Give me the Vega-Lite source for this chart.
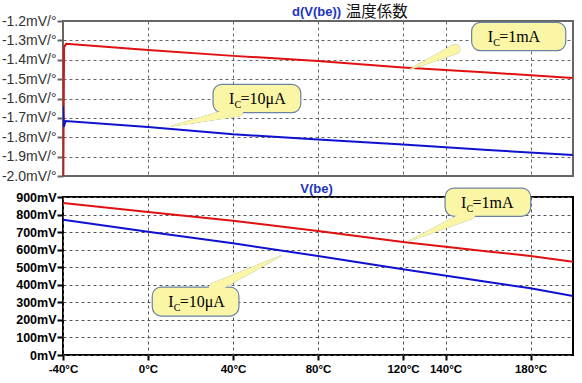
{
  "$schema": "https://vega.github.io/schema/vega-lite/v6.json",
  "background": "white",
  "padding": {"left": 0, "top": 3, "right": 0, "bottom": 0},
  "spacing": 21,
  "bounds": "flush",
  "config": {
    "font": "Liberation Sans",
    "axis": {"gridDash": [3, 3], "gridWidth": 1, "domain": false, "title": null, "labelFlush": false, "labelOverlap": false}
  },
  "datasets": {
    "dvbe": [
      {"ic": "1mA", "T": -40, "v": -2.3},
      {"ic": "1mA", "T": -39.5, "v": -1.335},
      {"ic": "1mA", "T": -38.5, "v": -1.318},
      {"ic": "1mA", "T": 0, "v": -1.350},
      {"ic": "1mA", "T": 40, "v": -1.380},
      {"ic": "1mA", "T": 80, "v": -1.406},
      {"ic": "1mA", "T": 120, "v": -1.440},
      {"ic": "1mA", "T": 160, "v": -1.466},
      {"ic": "1mA", "T": 200, "v": -1.494},
      {"ic": "10μA", "T": -40, "v": -1.64},
      {"ic": "10μA", "T": -39.6, "v": -1.745},
      {"ic": "10μA", "T": -38.8, "v": -1.716},
      {"ic": "10μA", "T": 0, "v": -1.747},
      {"ic": "10μA", "T": 40, "v": -1.785},
      {"ic": "10μA", "T": 80, "v": -1.811},
      {"ic": "10μA", "T": 120, "v": -1.838},
      {"ic": "10μA", "T": 160, "v": -1.866},
      {"ic": "10μA", "T": 200, "v": -1.892}
    ],
    "vbe": [
      {"ic": "1mA", "T": -40, "v": 866},
      {"ic": "1mA", "T": 0, "v": 815},
      {"ic": "1mA", "T": 40, "v": 765},
      {"ic": "1mA", "T": 80, "v": 706},
      {"ic": "1mA", "T": 120, "v": 644},
      {"ic": "1mA", "T": 160, "v": 590},
      {"ic": "1mA", "T": 180, "v": 564},
      {"ic": "1mA", "T": 200, "v": 531},
      {"ic": "10μA", "T": -40, "v": 771},
      {"ic": "10μA", "T": 0, "v": 702},
      {"ic": "10μA", "T": 40, "v": 636},
      {"ic": "10μA", "T": 80, "v": 564},
      {"ic": "10μA", "T": 120, "v": 488},
      {"ic": "10μA", "T": 160, "v": 416},
      {"ic": "10μA", "T": 180, "v": 380},
      {"ic": "10μA", "T": 200, "v": 336}
    ],
    "bubblesTop": [
      {"rest": "=1mA", "T": 152.3, "T2": 196.6, "v": -1.2067, "v2": -1.3533},
      {"rest": "=10μA", "T": 30.6, "T2": 71.9, "v": -1.5267, "v2": -1.6733}
    ],
    "pointersTop": [
      {"id": "a", "end": "base", "T": 144.5, "v": -1.346},
      {"id": "a", "end": "tip", "T": 123.6, "v": -1.4477},
      {"id": "b", "end": "base", "T": 42.4, "v": -1.666},
      {"id": "b", "end": "tip", "T": 11.3, "v": -1.742}
    ],
    "bubblesBottom": [
      {"rest": "=1mA", "T": 139.8, "T2": 180.1, "v": 951, "v2": 790},
      {"rest": "=10μA", "T": 2.0, "T2": 42.8, "v": 387, "v2": 222}
    ],
    "pointersBottom": [
      {"id": "a", "end": "base", "T": 151.5, "v": 800},
      {"id": "a", "end": "tip", "T": 122.8, "v": 649},
      {"id": "b", "end": "base", "T": 31.1, "v": 383},
      {"id": "b", "end": "tip", "T": 62.4, "v": 564}
    ],
    "titleTopMain": [
      {"label": "d(V(be))", "T": 79.3, "v": -1.1535}
    ],
    "titleTopNote": [
      {"label": "温度係数", "T": 93.0, "v": -1.1535}
    ],
    "titleBottom": [
      {"label": "V(be)", "T": 79.3, "v": 948}
    ]
  },
  "vconcat": [
    {
      "width": 510,
      "height": 155,
      "view": {"stroke": "#666666", "strokeWidth": 2},
      "encoding": {
        "x": {"field": "T", "type": "quantitative", "scale": {"domain": [-40, 200], "nice": false, "zero": false},
              "axis": {"values": [-40, 0, 40, 80, 120, 140, 180], "labels": false, "ticks": false, "grid": true, "gridColor": "#666666"}},
        "y": {"field": "v", "type": "quantitative", "scale": {"domain": [-2.0, -1.2], "nice": false, "zero": false},
              "axis": {"values": [-2.0, -1.9, -1.8, -1.7, -1.6, -1.5, -1.4, -1.3, -1.2], "labelExpr": "replace(format(datum.value, '.1f'), '\u2212', '-') + 'mV/°'",
                       "labelFontSize": 14, "labelColor": "#333333", "tickColor": "#666666", "tickWidth": 2, "tickSize": 6, "labelPadding": 1,
                       "grid": true, "gridColor": "#666666"}}
      },
      "layer": [
        {"data": {"name": "dvbe"}, "mark": {"type": "line", "clip": true, "strokeWidth": 2},
         "encoding": {"color": {"field": "ic", "type": "nominal", "scale": {"domain": ["10μA", "1mA"], "range": ["#1010d0", "#e01010"]}, "legend": null}}},
        {"data": {"name": "pointersTop"}, "mark": {"type": "trail", "color": "#6a83a3"},
         "encoding": {"detail": {"field": "id"}, "size": {"field": "end", "type": "ordinal", "scale": {"domain": ["tip", "base"], "range": [1.2, 10.5]}, "legend": null}}},
        {"data": {"name": "bubblesTop"}, "mark": {"type": "rect", "cornerRadius": 9, "fill": "#faf6a6", "stroke": "#6a83a3", "strokeWidth": 1.2},
         "encoding": {"x2": {"field": "T2"}, "y2": {"field": "v2"}}},
        {"data": {"name": "pointersTop"}, "mark": {"type": "trail", "color": "#faf6a6"},
         "encoding": {"detail": {"field": "id"}, "size": {"field": "end", "type": "ordinal", "scale": {"domain": ["tip", "base"], "range": [0, 8]}, "legend": null}}},
        {"data": {"name": "bubblesTop"}, "mark": {"type": "text", "text": "I", "font": "Liberation Serif", "fontSize": 16, "align": "left", "baseline": "alphabetic", "dx": 16, "dy": 20, "color": "black"}},
        {"data": {"name": "bubblesTop"}, "mark": {"type": "text", "text": "C", "font": "Liberation Serif", "fontSize": 10, "align": "left", "baseline": "alphabetic", "dx": 21.5, "dy": 24, "color": "black"}},
        {"data": {"name": "bubblesTop"}, "mark": {"type": "text", "font": "Liberation Serif", "fontSize": 16, "align": "left", "baseline": "alphabetic", "dx": 27.5, "dy": 20, "color": "black"},
         "encoding": {"text": {"field": "rest"}}},
        {"data": {"name": "titleTopMain"}, "mark": {"type": "text", "font": "Liberation Sans", "fontWeight": "bold", "fontSize": 13, "align": "center", "baseline": "middle", "color": "#1c35c4"},
         "encoding": {"text": {"field": "label", "type": "nominal"}}},
        {"data": {"name": "titleTopNote"}, "mark": {"type": "text", "font": "Noto Sans CJK JP", "fontSize": 15.5, "align": "left", "baseline": "middle", "color": "#111111"},
         "encoding": {"text": {"field": "label", "type": "nominal"}}}
      ]
    },
    {
      "width": 510,
      "height": 158,
      "view": {"stroke": "black", "strokeWidth": 2},
      "encoding": {
        "x": {"field": "T", "type": "quantitative", "scale": {"domain": [-40, 200], "nice": false, "zero": false},
              "axis": {"values": [-40, 0, 40, 80, 120, 140, 180], "labelExpr": "datum.value + '°C'", "labelFontSize": 11.5, "labelFontWeight": "bold", "labelColor": "black",
                       "tickColor": "black", "tickWidth": 2, "tickSize": 5, "labelPadding": 3, "grid": true, "gridColor": "#555555"}},
        "y": {"field": "v", "type": "quantitative", "scale": {"domain": [0, 900], "nice": false, "zero": false},
              "axis": {"values": [0, 100, 200, 300, 400, 500, 600, 700, 800, 900], "labelExpr": "datum.value + 'mV'",
                       "labelFontSize": 12.5, "labelFontWeight": "bold", "labelColor": "black", "tickColor": "black", "tickWidth": 2, "tickSize": 6, "labelPadding": 1,
                       "grid": true, "gridColor": "#555555"}}
      },
      "layer": [
        {"data": {"name": "vbe"}, "mark": {"type": "line", "clip": true, "strokeWidth": 2},
         "encoding": {"color": {"field": "ic", "type": "nominal", "scale": {"domain": ["10μA", "1mA"], "range": ["#1010d0", "#e01010"]}, "legend": null}}},
        {"data": {"name": "pointersBottom"}, "mark": {"type": "trail", "color": "#6a83a3"},
         "encoding": {"detail": {"field": "id"}, "size": {"field": "end", "type": "ordinal", "scale": {"domain": ["tip", "base"], "range": [1.2, 10.5]}, "legend": null}}},
        {"data": {"name": "bubblesBottom"}, "mark": {"type": "rect", "cornerRadius": 9, "fill": "#faf6a6", "stroke": "#6a83a3", "strokeWidth": 1.2},
         "encoding": {"x2": {"field": "T2"}, "y2": {"field": "v2"}}},
        {"data": {"name": "pointersBottom"}, "mark": {"type": "trail", "color": "#faf6a6"},
         "encoding": {"detail": {"field": "id"}, "size": {"field": "end", "type": "ordinal", "scale": {"domain": ["tip", "base"], "range": [0, 8]}, "legend": null}}},
        {"data": {"name": "bubblesBottom"}, "mark": {"type": "text", "text": "I", "font": "Liberation Serif", "fontSize": 16, "align": "left", "baseline": "alphabetic", "dx": 16, "dy": 20, "color": "black"}},
        {"data": {"name": "bubblesBottom"}, "mark": {"type": "text", "text": "C", "font": "Liberation Serif", "fontSize": 10, "align": "left", "baseline": "alphabetic", "dx": 21.5, "dy": 24, "color": "black"}},
        {"data": {"name": "bubblesBottom"}, "mark": {"type": "text", "font": "Liberation Serif", "fontSize": 16, "align": "left", "baseline": "alphabetic", "dx": 27.5, "dy": 20, "color": "black"},
         "encoding": {"text": {"field": "rest"}}},
        {"data": {"name": "titleBottom"}, "mark": {"type": "text", "font": "Liberation Sans", "fontWeight": "bold", "fontSize": 13, "align": "center", "baseline": "middle", "color": "#1c35c4"},
         "encoding": {"text": {"field": "label", "type": "nominal"}}}
      ]
    }
  ]
}
